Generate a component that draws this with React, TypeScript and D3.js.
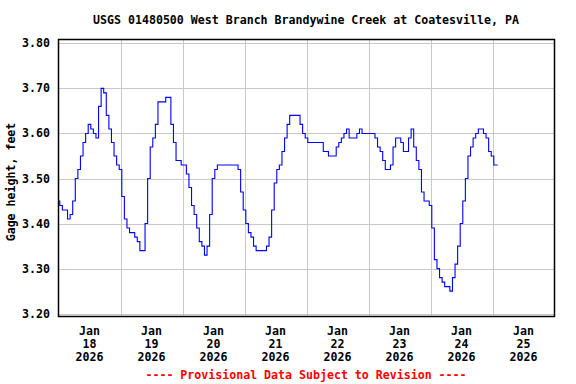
import React from "react";
import * as d3 from "d3";

// hourly gage height (ft), one array per day (local time)
const jan18 = [3.45, 3.44, 3.43, 3.43, 3.41, 3.42, 3.45, 3.50, 3.52, 3.55, 3.58, 3.60, 3.62, 3.61, 3.60, 3.59, 3.66, 3.70, 3.69, 3.64, 3.61, 3.58, 3.55, 3.53];
const jan19 = [3.52, 3.46, 3.41, 3.39, 3.38, 3.38, 3.37, 3.36, 3.34, 3.34, 3.40, 3.50, 3.57, 3.59, 3.62, 3.67, 3.67, 3.67, 3.68, 3.68, 3.62, 3.58, 3.54, 3.54];
const jan20 = [3.53, 3.53, 3.51, 3.48, 3.44, 3.42, 3.39, 3.36, 3.35, 3.33, 3.35, 3.42, 3.50, 3.52, 3.53, 3.53, 3.53, 3.53, 3.53, 3.53, 3.53, 3.53, 3.52, 3.47];
const jan21 = [3.43, 3.40, 3.38, 3.37, 3.35, 3.34, 3.34, 3.34, 3.34, 3.35, 3.37, 3.43, 3.49, 3.52, 3.53, 3.56, 3.59, 3.62, 3.64, 3.64, 3.64, 3.64, 3.62, 3.60];
const jan22 = [3.59, 3.58, 3.58, 3.58, 3.58, 3.58, 3.58, 3.56, 3.56, 3.55, 3.55, 3.55, 3.57, 3.58, 3.59, 3.60, 3.61, 3.59, 3.59, 3.59, 3.60, 3.61, 3.60, 3.60];
const jan23 = [3.60, 3.60, 3.60, 3.59, 3.57, 3.56, 3.54, 3.52, 3.52, 3.53, 3.57, 3.59, 3.59, 3.58, 3.56, 3.56, 3.59, 3.61, 3.57, 3.54, 3.52, 3.47, 3.45, 3.45];
const jan24 = [3.44, 3.39, 3.32, 3.30, 3.28, 3.27, 3.26, 3.26, 3.25, 3.28, 3.31, 3.35, 3.40, 3.45, 3.50, 3.55, 3.57, 3.59, 3.60, 3.61, 3.61, 3.60, 3.59, 3.56];
const jan25 = [3.55, 3.53, 3.53];

const days = [jan18, jan19, jan20, jan21, jan22, jan23, jan24, jan25];
const dayLabels = ["18", "19", "20", "21", "22", "23", "24", "25"];
const yTicks = [3.2, 3.3, 3.4, 3.5, 3.6, 3.7, 3.8];

const title = "USGS 01480500 West Branch Brandywine Creek at Coatesville, PA";
const font = "'DejaVu Sans Mono', monospace";

export default function App() {
  const w = 576;
  const h = 384;
  const left = 58.5, right = 554.5, top = 39.5, bottom = 316.5;

  const start = new Date(2026, 0, 18);
  const end = new Date(2026, 0, 26);
  const x = d3.scaleTime().domain([start, end]).range([left, right]);
  const y = d3.scaleLinear().domain([3.2, 3.8]).range([313.7, 43.3]);

  // flatten to timestamped points
  const points: { t: Date; v: number }[] = [];
  days.forEach((vals, d) => {
    vals.forEach((v, hr) => {
      points.push({ t: new Date(2026, 0, 18 + d, hr), v });
    });
  });

  const line = d3.line<{ t: Date; v: number }>()
    .x(d => x(d.t))
    .y(d => y(d.v))
    .curve(d3.curveStep);

  const dayTicks = d3.timeDay.range(start, d3.timeDay.offset(end, 1));

  return (
    <svg width={w} height={h} style={{ position: "absolute", left: 0, top: 0, background: "white" }}>
      <text x={306} y={24} textAnchor="middle" fontFamily={font} fontWeight="bold" fontSize={11.6}>
        {title}
      </text>

      {/* grid */}
      {yTicks.map(t => (
        <line key={"gy" + t} x1={left} x2={right} y1={Math.round(y(t)) + 0.5} y2={Math.round(y(t)) + 0.5}
          stroke="#c8c8c8" strokeWidth={1} />
      ))}
      {dayTicks.slice(1, -1).map(d => (
        <line key={"gx" + d.getTime()} x1={Math.round(x(d)) + 0.5} x2={Math.round(x(d)) + 0.5} y1={top} y2={bottom}
          stroke="#c8c8c8" strokeWidth={1} />
      ))}

      <path d={line(points) || ""} fill="none" stroke="#0000ff" strokeWidth={1.1} />

      <rect x={left} y={top} width={right - left} height={bottom - top} fill="none" stroke="black" strokeWidth={1.5} />

      {/* y tick labels */}
      {yTicks.map(t => (
        <text key={"ty" + t} x={50} y={y(t)} dy="0.35em" textAnchor="end" fontFamily={font}
          fontWeight="bold" fontSize={11.6}>
          {t.toFixed(2)}
        </text>
      ))}

      <text transform={`translate(15,182) rotate(-90)`} textAnchor="middle" fontFamily={font}
        fontWeight="bold" fontSize={11.6}>
        Gage height, feet
      </text>

      {/* x tick labels at noon */}
      {dayLabels.map((lab, i) => {
        const cx = x(new Date(2026, 0, 18 + i, 12));
        return (
          <g key={"tx" + lab} fontFamily={font} fontWeight="bold" fontSize={11.6} textAnchor="middle">
            <text x={cx} y={335}>Jan</text>
            <text x={cx} y={348}>{lab}</text>
            <text x={cx} y={361}>2026</text>
          </g>
        );
      })}

      <text x={306} y={379} textAnchor="middle" fontFamily={font} fontWeight="bold" fontSize={11.6} fill="#ff0000">
        ---- Provisional Data Subject to Revision ----
      </text>
    </svg>
  );
}
